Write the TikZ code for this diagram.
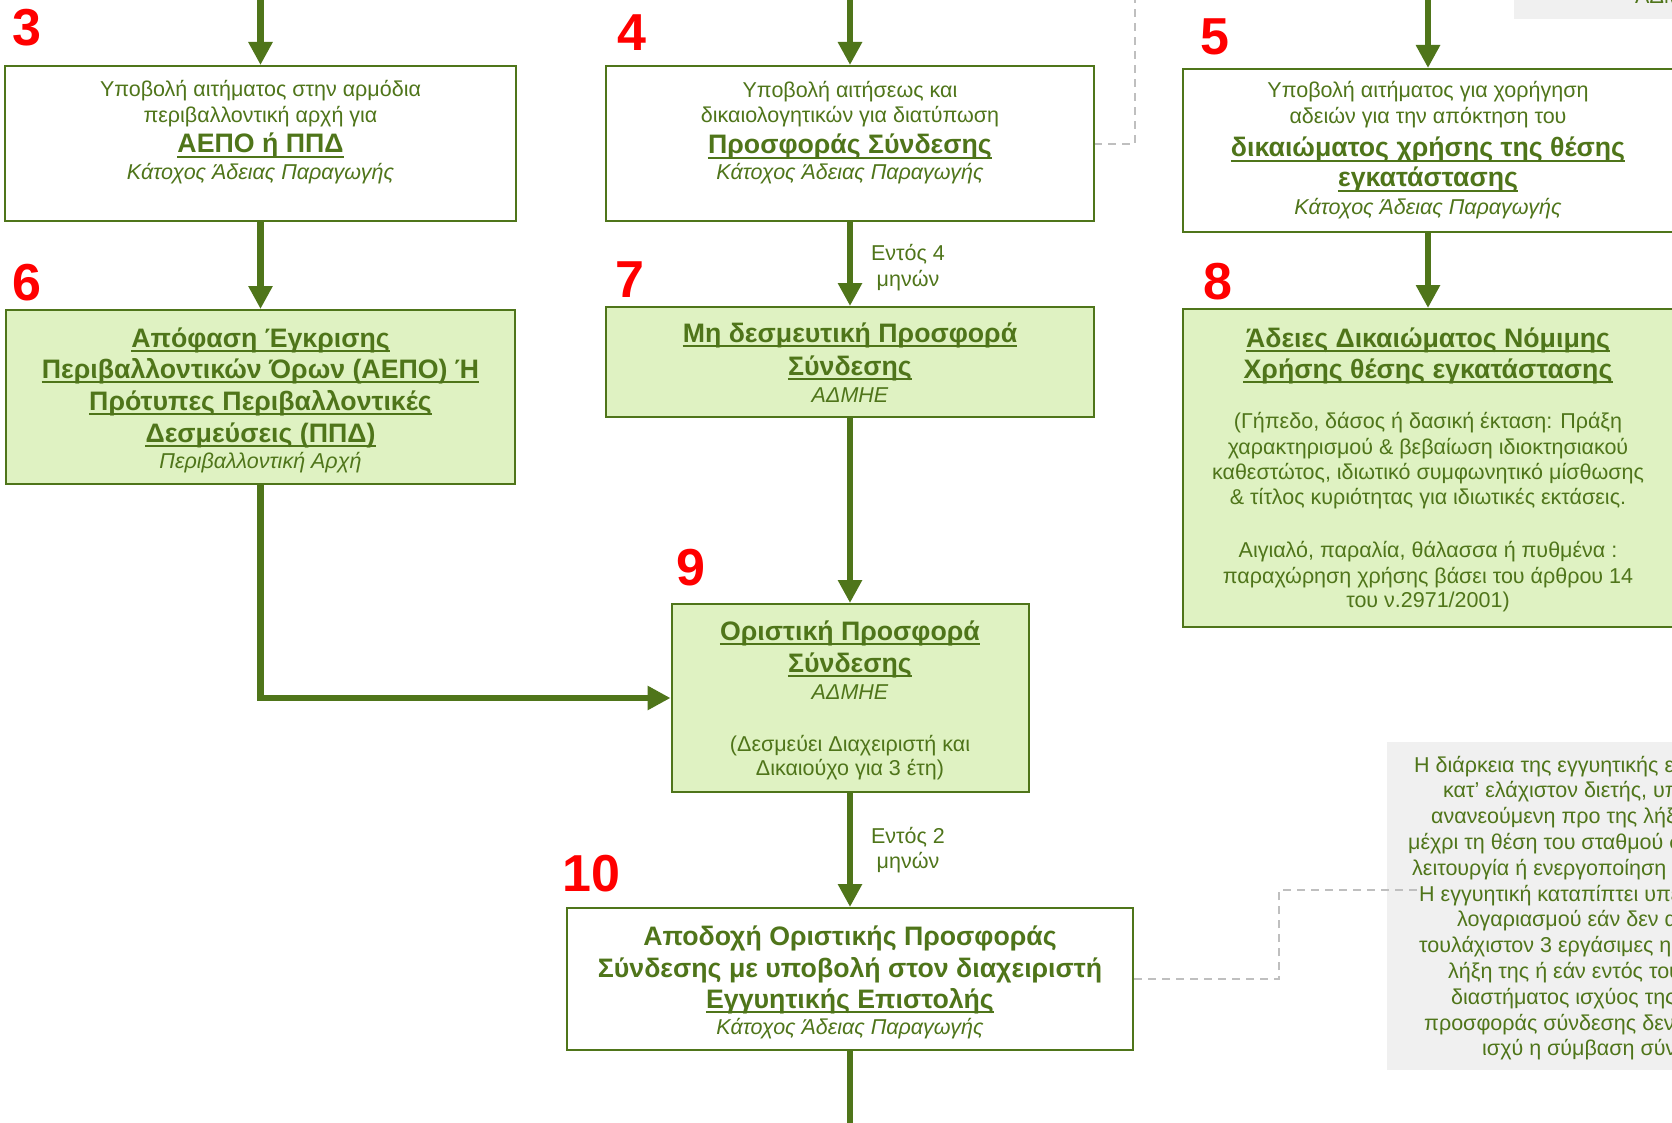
\documentclass[tikz,border=0pt]{standalone}
\usepackage{fontspec}
\setmainfont{Liberation Sans}
\usetikzlibrary{arrows.meta}
\definecolor{gc}{RGB}{79,117,26}
\definecolor{lg}{RGB}{223,242,194}
\definecolor{nt}{RGB}{240,240,240}
\definecolor{dg}{RGB}{191,191,191}
\newcommand\Ln[5]{\node[#1] (#2) at (#3,#4) {#5};}
\newcommand\Lu[4]{\node[ttl] (#1) at (#2,#3) {#4};
  \draw[ulin] ([yshift=-4pt]#1.base west) -- ([yshift=-4pt]#1.base east);}
\tikzset{
  txt/.style={text=gc, inner sep=0pt, anchor=base, font=\fontsize{21.5}{25}\selectfont},
  ttl/.style={txt, font=\fontsize{26.7}{31}\selectfont\bfseries},
  itx/.style={txt, font=\fontsize{21.5}{25}\selectfont\itshape},
  ntx/.style={txt, anchor=base west},
  ulin/.style={draw=gc, line width=2.2pt},
  num/.style={text=red, inner sep=0pt, font=\fontsize{52}{60}\selectfont\bfseries},
  bx/.style={draw=gc, line width=2pt, inner sep=0pt},
  flow/.style={draw=gc, line width=6.7pt, -{Triangle[width=23pt,length=23pt]}},
  dsh/.style={draw=dg, line width=2pt, dash pattern=on 8pt off 6pt},
}
\begin{document}
\begin{tikzpicture}[x=1pt,y=-1pt]
\useasboundingbox (0,0) rectangle (1672,1123);
\clip (0,0) rectangle (1672,1123);
\fill[white] (0,0) rectangle (1672,1123);

% notes (grey)
\node[fill=nt, inner sep=0pt, minimum width=170pt, minimum height=19pt, anchor=north west] (topnote) at (1514,-0.5) {};
\node[txt, anchor=base west] (topnotet) at (1635,4) {ΑΔΜΗΕ};
\node[fill=nt, inner sep=0pt, minimum width=310pt, minimum height=328pt, anchor=north west] (note) at (1387,742) {};

% dashed connectors
\coordinate (d4) at (1135,-5);
\draw[dsh] (1094,144) -| (d4);
\coordinate (d10a) at (1279,890);
\coordinate (d10b) at (1420,890);

% boxes
\node[bx, fill=white, minimum width=511pt, minimum height=155pt] (b3) at (260.5,143.5) {};
\node[bx, fill=white, minimum width=488pt, minimum height=155pt] (b4) at (850,143.5) {};
\node[bx, fill=white, minimum width=490pt, minimum height=163pt] (b5) at (1428,150.5) {};
\node[bx, fill=lg, minimum width=509pt, minimum height=174pt] (b6) at (260.5,397) {};
\node[bx, fill=lg, minimum width=488pt, minimum height=110pt] (b7) at (850,362) {};
\node[bx, fill=lg, minimum width=490pt, minimum height=318pt] (b8) at (1428,468) {};
\node[bx, fill=lg, minimum width=357pt, minimum height=188pt] (b9) at (850,698) {};
\node[bx, fill=white, minimum width=566pt, minimum height=142pt] (b10) at (850,979) {};

\draw[dsh] (b10.east) -| (d10a) -- (d10b);

% arrows
\coordinate (t1) at (260.5,-10);
\coordinate (t2) at (850,-10);
\coordinate (t3) at (1428,-10);
\coordinate (bot) at (850,1135);
\draw[flow] (t1) -- (b3.north);
\draw[flow] (t2) -- (b4.north);
\draw[flow] (t3) -- (b5.north);
\draw[flow] (b3.south) -- (b6.north);
\draw[flow] (b4.south) -- (b7.north);
\draw[flow] (b5.south) -- (b8.north);
\draw[flow] (b7.south) -- (b9.north);
\draw[flow] (b6.south) |- (b9.west);
\draw[flow] (b9.south) -- (b10.north);
\draw[draw=gc, line width=6.7pt] (b10.south) -- (bot);

% step numbers
\node[num] (n3) at (27,28) {3};
\node[num] (n4) at (632,33) {4};
\node[num] (n5) at (1215,37) {5};
\node[num] (n6) at (27,283) {6};
\node[num] (n7) at (630,280) {7};
\node[num] (n8) at (1218,282) {8};
\node[num] (n9) at (691,568) {9};
\node[num] (n10) at (591,874) {10};

% box 3
\Ln{txt}{a1}{260.5}{97}{Υποβολή αιτήματος στην αρμόδια}
\Ln{txt}{a2}{260.5}{123}{περιβαλλοντική αρχή για}
\Lu{a3}{260.5}{153}{ΑΕΠΟ ή ΠΠΔ}
\Ln{itx}{a4}{260.5}{180}{Κάτοχος Άδειας Παραγωγής}
% box 4
\Ln{txt}{c1}{850}{98}{Υποβολή αιτήσεως και}
\Ln{txt}{c2}{850}{123}{δικαιολογητικών για διατύπωση}
\Lu{c3}{850}{154}{Προσφοράς Σύνδεσης}
\Ln{itx}{c4}{850}{180}{Κάτοχος Άδειας Παραγωγής}
% box 5
\Ln{txt}{e1}{1428}{98}{Υποβολή αιτήματος για χορήγηση}
\Ln{txt}{e2}{1428}{124}{αδειών για την απόκτηση του}
\Lu{e3}{1428}{157}{δικαιώματος χρήσης της θέσης}
\Lu{e4}{1428}{187}{εγκατάστασης}
\Ln{itx}{e5}{1428}{215}{Κάτοχος Άδειας Παραγωγής}
% box 6
\Lu{f1}{260.5}{347}{Απόφαση Έγκρισης}
\Lu{f2}{260.5}{378}{Περιβαλλοντικών Όρων (ΑΕΠΟ) Ή}
\Lu{f3}{260.5}{410}{Πρότυπες Περιβαλλοντικές}
\Lu{f4}{260.5}{442}{Δεσμεύσεις (ΠΠΔ)}
\Ln{itx}{f5}{260.5}{468}{Περιβαλλοντική Αρχή}
% box 7
\Lu{g1}{850}{342}{Μη δεσμευτική Προσφορά}
\Lu{g2}{850}{375}{Σύνδεσης}
\Ln{itx}{g3}{850}{402}{ΑΔΜΗΕ}
% box 8
\Lu{h1}{1428}{347}{Άδειες Δικαιώματος Νόμιμης}
\Lu{h2}{1428}{378}{Χρήσης θέσης εγκατάστασης}
\Ln{txt}{h3}{1428}{428}{(Γήπεδο, δάσος ή δασική έκταση: Πράξη}
\Ln{txt}{h4}{1428}{454}{χαρακτηρισμού \& βεβαίωση ιδιοκτησιακού}
\Ln{txt}{h5}{1428}{479}{καθεστώτος, ιδιωτικό συμφωνητικό μίσθωσης}
\Ln{txt}{h6}{1428}{504}{\& τίτλος κυριότητας για ιδιωτικές εκτάσεις.}
\Ln{txt}{h7}{1428}{557}{Αιγιαλό, παραλία, θάλασσα ή πυθμένα :}
\Ln{txt}{h8}{1428}{583}{παραχώρηση χρήσης βάσει του άρθρου 14}
\Ln{txt}{h9}{1428}{607}{του ν.2971/2001)}
% box 9
\Lu{i1}{850}{640}{Οριστική Προσφορά}
\Lu{i2}{850}{672}{Σύνδεσης}
\Ln{itx}{i3}{850}{699}{ΑΔΜΗΕ}
\Ln{txt}{i4}{850}{751}{(Δεσμεύει Διαχειριστή και}
\Ln{txt}{i5}{850}{775}{Δικαιούχο για 3 έτη)}
% box 10
\Ln{ttl}{j1}{850}{945}{Αποδοχή Οριστικής Προσφοράς}
\Ln{ttl}{j2}{850}{977}{Σύνδεσης με υποβολή στον διαχειριστή}
\Lu{j3}{850}{1008}{Εγγυητικής Επιστολής}
\Ln{itx}{j4}{850}{1034}{Κάτοχος Άδειας Παραγωγής}
% arrow labels
\Ln{txt}{k1}{908}{261}{Εντός 4}
\Ln{txt}{k2}{908}{286}{μηνών}
\Ln{txt}{k3}{908}{843}{Εντός 2}
\Ln{txt}{k4}{908}{868}{μηνών}
% note text
\Ln{ntx}{m1}{1414}{772}{Η διάρκεια της εγγυητικής επ}
\Ln{ntx}{m2}{1443}{797.8}{κατ’ ελάχιστον διετής, υπ}
\Ln{ntx}{m3}{1431}{823.6}{ανανεούμενη προ της λήξ}
\Ln{ntx}{m4}{1408}{849.4}{μέχρι τη θέση του σταθμού σ}
\Ln{ntx}{m5}{1412}{875.2}{λειτουργία ή ενεργοποίηση τ}
\Ln{ntx}{m6}{1419}{901}{Η εγγυητική καταπίπτει υπέ}
\Ln{ntx}{m7}{1457}{926.8}{λογαριασμού εάν δεν α}
\Ln{ntx}{m8}{1419}{952.6}{τουλάχιστον 3 εργάσιμες η}
\Ln{ntx}{m9}{1448}{978.4}{λήξη της ή εάν εντός του}
\Ln{ntx}{m10}{1451}{1004.2}{διαστήματος ισχύος της}
\Ln{ntx}{m11}{1424}{1030}{προσφοράς σύνδεσης δεν}
\Ln{ntx}{m12}{1482}{1055.8}{ισχύ η σύμβαση σύν}
\end{tikzpicture}
\end{document}
